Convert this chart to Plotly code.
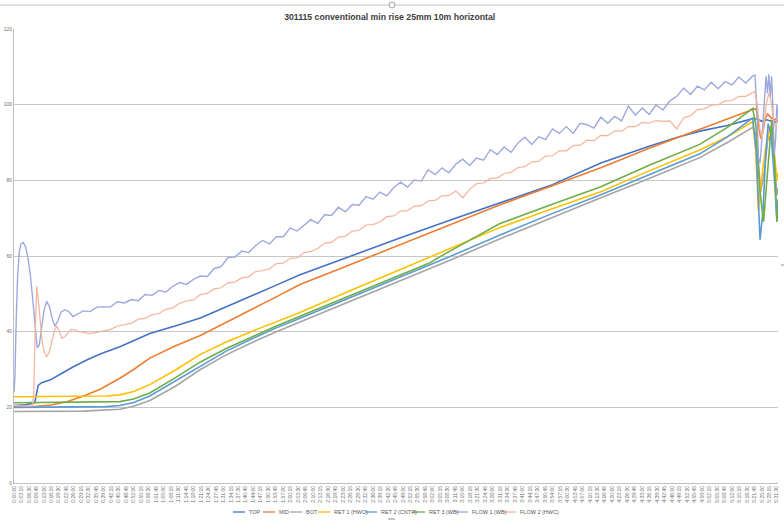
import plotly.graph_objects as go

TITLE = "301115 conventional min rise 25mm 10m horizontal"

# ---- x axis tick labels (elapsed time, every 3 min 15 s) ----
tick_minutes = [i * 3.25 for i in range(103)]


def hms(m):
    s = int(round(m * 60))
    return f"{s // 3600}:{(s % 3600) // 60:02d}:{s % 60:02d}"


tick_labels = [hms(m) for m in tick_minutes]

series_names = ["TOP", "MID", "BOT", "RET 1 (HWC)", "RET 2 (CNTR)",
                "RET 3 (WB)", "FLOW 1 (WB)", "FLOW 2 (HWC)"]
series_colors = ["#4472C4", "#ED7D31", "#A5A5A5", "#FFC000", "#5B9BD5",
                 "#70AD47", "#9EA8DE", "#F6B29A"]

# ---- series (time in minutes, temperature) ----
top_t = [0, 5, 9, 9.8, 10.5, 12, 15.6, 22, 26, 31.6, 38, 46, 59, 70, 81, 92, 103, 114, 124,
         146, 168, 190, 211, 233, 255, 276, 288, 298, 310, 321, 323, 325, 327, 329, 331, 332]
top_v = [20.5, 20.7, 21.2, 23.5, 25.8, 26.5, 27.2, 29.4, 30.8, 32.5, 34.2, 36, 39.5, 41.5, 43.6,
         46.5, 49.5, 52.3, 55, 60, 64.8, 69.6, 74, 78.6, 84.6, 89, 91.3, 93, 94.5, 96.3,
         96.2, 95.6, 96.0, 95.8, 95.4, 95.6]

mid_t = [0, 10, 16, 23, 31.6, 37.4, 46, 52, 59, 70, 81, 92, 103, 114, 124, 146, 168, 190, 211,
         233, 255, 276, 289, 298, 310, 321, 322.5, 323.5, 324.5, 325.5, 326.5, 327.5, 329,
         330.5, 332]
mid_v = [20.2, 20.3, 20.6, 21.5, 23.3, 24.8, 27.7, 30, 33, 36.2, 39, 42.5, 45.8, 49.2, 52.4,
         57.7, 63, 68.3, 73.5, 78.4, 83.3, 88.5, 91.5, 93.5, 96.2, 98.7, 99, 95, 91, 93, 96.5,
         97.5, 96.5, 96, 96.5]

bot_t = [0, 30, 46, 52, 59, 70, 81, 92, 103, 114, 124, 146, 168, 190, 211, 233, 255, 276, 298,
         310, 321, 322.5, 323.5, 324.5, 326, 327.5, 329, 330.5, 331.5, 332]
bot_v = [18.9, 19.0, 19.5, 20.3, 21.8, 25.5, 30, 33.8, 37, 40, 42.5, 48, 53.5, 59, 64.5, 70,
         75.4, 80.5, 86, 90, 94, 92, 84, 77, 82, 90.5, 92, 85, 76, 78]

ret1_t = [0, 30, 40, 46, 52, 59, 70, 81, 92, 103, 114, 124, 146, 168, 190, 211, 233, 255, 276,
          298, 310, 321, 322.3, 323.5, 324.8, 326.5, 328.6, 330, 331.5, 332]
ret1_v = [22.8, 22.9, 23.0, 23.3, 24.2, 26, 29.8, 34, 37.2, 40, 42.7, 45, 50.8, 56.5, 62, 67.5,
          72.3, 77, 82.5, 88, 91.5, 95.5, 88, 72, 80, 88, 94.3, 90, 80, 82]

ret2_t = [0, 30, 40, 46, 52, 59, 70, 81, 92, 103, 114, 124, 146, 168, 190, 211, 233, 255, 276,
          298, 310, 321, 322.5, 323.5, 324.2, 325.5, 326.5, 327.7, 329, 330.5, 331.5, 332]
ret2_v = [20.0, 20.0, 20.2, 20.5, 21.3, 23, 27, 31, 34.8, 38, 41, 43.5, 49, 54.5, 60, 65.5, 71,
          76.2, 81.5, 87, 91.5, 96.5, 88, 72, 64.3, 72, 85, 95, 92, 80, 69.6, 75]

ret3_t = [0, 30, 40, 46, 52, 59, 70, 81, 92, 103, 114, 124, 146, 168, 180, 190, 211, 233, 255,
          276, 298, 310, 321, 322.5, 324, 325.7, 327, 328.5, 329.3, 330.5, 331.5, 332]
ret3_v = [21.2, 21.3, 21.4, 21.5, 22.2, 23.8, 27.8, 32, 35.5, 38.5, 41.5, 44, 49.5, 55, 58, 61.5,
          68.5, 73.5, 78.3, 84, 89.5, 94, 99, 94, 78, 69, 78, 90, 96, 85, 69, 72]

# noisy flow sensors: start-up section, 3-minute logged section, end section
flow_t_start1 = [0, 0.4, 1.0, 1.6, 2.3, 3.0, 4.0, 5.0, 6.0, 7.0, 8.0, 9.0, 10.1, 11.0, 12.0, 13.0,
                 14.2, 15.5, 16.6, 17.8, 19.0, 20.5, 22.2, 24.0, 25.6, 27.0, 28.7]
flow1_v_start = [24, 28, 44, 55, 61, 63.2, 63.6, 62.5, 59.8, 55.5, 49.5, 42, 35.7, 36.5, 40.5,
                 45.5, 48, 46.5, 43.5, 41.4, 42.8, 45.2, 45.8, 45.2, 44.0, 44.4, 45.0]
flow_t_log = list(range(30, 322, 3))
flow1_v_log = [45.5, 45.3, 46.5, 46.6, 46.6, 47.9, 47.6, 48.5, 48.2, 49.8, 49.6, 50.9, 50.5, 52.0,
               53.0, 52.5, 53.8, 54.7, 54.6, 56.7, 57.2, 59.6, 59.7, 61.3, 60.9, 62.8, 64.1, 63.2,
               65.1, 65.1, 67.4, 66.6, 68.2, 69.6, 68.6, 70.9, 70.7, 72.9, 71.7, 73.6, 73.4, 75.7,
               75.0, 76.9, 75.9, 78.1, 79.5, 78.2, 80.1, 79.8, 82.8, 81.5, 83.3, 82.0, 84.3, 85.6,
               83.9, 85.9, 85.3, 88.1, 86.8, 88.8, 87.4, 89.9, 91.4, 89.5, 91.5, 90.8, 93.6, 92.4,
               94.2, 92.4, 95.1, 94.7, 93.8, 96.7, 95.1, 96.9, 95.7, 99.6, 97.2, 99.1, 97.4, 99.9,
               98.6, 101.0, 102.2, 104.4, 102.7, 104.9, 103.9, 105.9, 104.2, 106.1, 105.2, 107.3,
               105.7, 107.6]
flow_t_end1 = [322, 322.8, 323.5, 324.2, 325, 326, 326.8, 327.4, 328, 328.6, 329.2, 329.8, 330.4,
               331, 331.5, 332]
flow1_v_end = [107.8, 99, 86, 84.5, 91, 101, 107.5, 103, 108, 102, 107.5, 99, 87, 91, 100, 97]

flow_t_start2 = [0, 4, 8.0, 8.6, 9.2, 9.9, 10.5, 11.3, 12.2, 13.2, 14.2, 15.3, 16.5, 17.6, 18.6,
                 19.7, 20.7, 22, 23.5, 25, 26.5, 28]
flow2_v_start = [20.5, 20.3, 20.4, 24, 40, 52, 49, 43, 37.5, 34.5, 33.4, 34.5, 37.5, 40.3, 41.4,
                 40.2, 38.3, 38.6, 39.8, 40.6, 40.5, 40.0]
flow2_v_log = [39.9, 39.5, 39.8, 40.3, 40.6, 41.5, 41.8, 42.2, 43.3, 43.5, 44.5, 44.8, 45.9, 46.3,
               47.5, 48.1, 48.4, 49.8, 50.1, 51.3, 51.6, 52.9, 53.1, 54.2, 54.5, 55.9, 56.1, 56.6,
               58.0, 58.1, 59.4, 59.5, 60.9, 61.2, 62.0, 63.4, 63.6, 65.0, 65.2, 66.6, 66.8, 68.2,
               68.3, 69.0, 70.4, 70.6, 71.9, 72.0, 73.2, 73.3, 74.6, 74.7, 75.9, 76.0, 77.2, 75.4,
               77.6, 79.1, 79.3, 80.5, 80.6, 81.8, 82.1, 83.4, 83.6, 84.9, 85.0, 86.4, 86.5, 87.8,
               87.8, 89.2, 89.3, 90.6, 90.5, 91.9, 91.8, 93.1, 93.0, 94.2, 94.2, 95.3, 95.1, 95.8,
               95.6, 95.7, 93.6, 96.5, 97.1, 98.7, 98.9, 99.9, 100.0, 101.0, 101.1, 102.2, 102.2,
               103.2]
flow_t_end2 = [322, 323, 324, 325, 326, 327, 328, 329, 330, 331, 332]
flow2_v_end = [103.5, 100, 94, 91, 95, 100.5, 103, 101, 96, 94, 97]

series_x = [top_t, mid_t, bot_t, ret1_t, ret2_t, ret3_t,
            flow_t_start1 + flow_t_log + flow_t_end1,
            flow_t_start2 + flow_t_log + flow_t_end2]
series_y = [top_v, mid_v, bot_v, ret1_v, ret2_v, ret3_v,
            flow1_v_start + flow1_v_log + flow1_v_end,
            flow2_v_start + flow2_v_log + flow2_v_end]
series_width = [1.6, 1.6, 1.6, 1.6, 1.6, 1.6, 1.4, 1.2]

# ---- layout geometry (pixels in the 784x529 canvas) ----
W, H = 784, 529
ML, MR, MT, MB = 14, 6, 29, 46
PW, PH = W - ML - MR, H - MT - MB


def px_x(px):
    return (px - ML) / PW


def px_y(py):
    return (H - MB - py) / PH


fig = go.Figure()
for name, color, xs, ys, lw in zip(series_names, series_colors, series_x, series_y, series_width):
    fig.add_trace(go.Scatter(x=xs, y=ys, mode="lines", name=name,
                             line=dict(color=color, width=lw), showlegend=False))

# compact legend drawn like the spreadsheet one
legend_key_px = [233, 263, 290, 318, 365, 413, 456, 504]
legend_y_px = 512
shapes = []
annotations = []
for name, color, kx in zip(series_names, series_colors, legend_key_px):
    shapes.append(dict(type="line", xref="paper", yref="paper",
                       x0=px_x(kx), x1=px_x(kx + 12), y0=px_y(legend_y_px), y1=px_y(legend_y_px),
                       line=dict(color=color, width=1.3)))
    annotations.append(dict(text=name, xref="paper", yref="paper", x=px_x(kx + 14),
                            y=px_y(legend_y_px), xanchor="left", yanchor="middle",
                            showarrow=False, font=dict(size=5.5, color="#595959",
                                                       family="Liberation Sans")))

# chart frame top border and selection handles
shapes.append(dict(type="line", xref="paper", yref="paper", x0=px_x(0), x1=px_x(W),
                   y0=px_y(5), y1=px_y(5), line=dict(color="#C4C4C4", width=1)))
shapes.append(dict(type="circle", xref="paper", yref="paper", x0=px_x(389), x1=px_x(395),
                   y0=px_y(2), y1=px_y(8), fillcolor="white", line=dict(color="#A0A0A0", width=1)))
shapes.append(dict(type="line", xref="paper", yref="paper", x0=px_x(388), x1=px_x(395),
                   y0=px_y(519), y1=px_y(519), line=dict(color="#8C8C8C", width=1)))
shapes.append(dict(type="line", xref="paper", yref="paper", x0=px_x(781), x1=px_x(784),
                   y0=px_y(265), y1=px_y(265), line=dict(color="#8C8C8C", width=1)))

fig.update_layout(
    width=W, height=H,
    margin=dict(l=ML, r=MR, t=MT, b=MB),
    paper_bgcolor="white", plot_bgcolor="white",
    title=dict(text=f"<b>{TITLE}</b>", x=0.497, xref="container", y=1 - 16.5 / H,
               yref="container", xanchor="center", yanchor="middle",
               font=dict(size=8.7, color="#404040", family="Liberation Sans")),
    xaxis=dict(range=[0, 332], tickmode="array", tickvals=tick_minutes, ticktext=tick_labels,
               tickangle=-90, tickfont=dict(size=5, color="#6E6E6E", family="Liberation Sans"),
               showgrid=False, showline=True, linecolor="#BFBFBF", linewidth=1, ticks="",
               zeroline=False, automargin=False),
    yaxis=dict(range=[0, 120], dtick=20, tickfont=dict(size=5, color="#6E6E6E",
                                                      family="Liberation Sans"),
               showgrid=True, gridcolor="#C6C6C6", gridwidth=1, showline=True,
               linecolor="#BFBFBF", linewidth=1, ticks="", zeroline=False, automargin=False),
    shapes=shapes, annotations=annotations,
    showlegend=False,
)

fig.write_html("out.html")
